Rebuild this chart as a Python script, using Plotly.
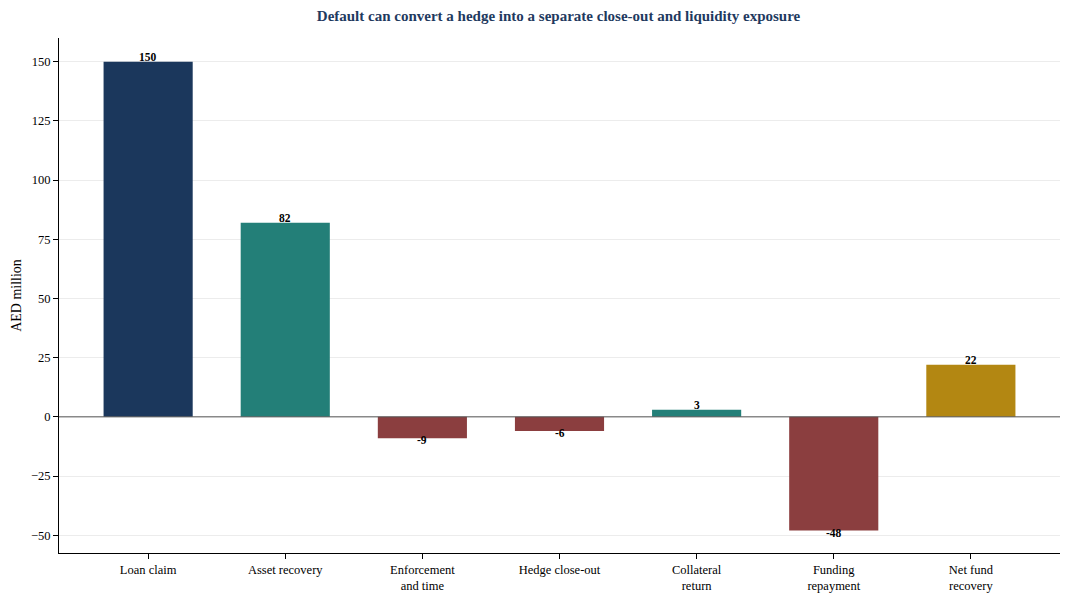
import plotly.graph_objects as go

categories = ["Loan claim", "Asset recovery", "Enforcement<br>and time", "Hedge close-out",
              "Collateral<br>return", "Funding<br>repayment", "Net fund<br>recovery"]
values = [150, 82, -9, -6, 3, -48, 22]
colors = ["#1b375c", "#237f78", "#8b3e3f", "#8b3e3f", "#237f78", "#8b3e3f", "#b38712"]

FONT = "Liberation Serif, Times New Roman, serif"

fig = go.Figure(go.Bar(
    x=categories, y=values,
    marker=dict(color=colors, line=dict(width=0)),
    width=0.65,
    hoverinfo="x+y",
))

for c, v in zip(categories, values):
    fig.add_annotation(
        x=c, y=v, text="<b>%d</b>" % v, showarrow=False,
        yanchor="bottom" if v >= 0 else "middle",
        yshift=-3 if v >= 0 else -2,
        font=dict(family=FONT, size=11.5, color="black"),
    )

fig.add_hline(y=0, line=dict(color="#555555", width=1))

fig.update_layout(
    width=1070, height=599,
    margin=dict(l=59, r=10, t=38, b=46, autoexpand=False),
    paper_bgcolor="white", plot_bgcolor="white",
    font=dict(family=FONT, size=12.5, color="black"),
    title=dict(text="<b>Default can convert a hedge into a separate close-out and liquidity exposure</b>",
               x=0.522, xanchor="center", y=0.973, yanchor="middle",
               font=dict(family=FONT, size=15, color="#1f3a5f")),
    showlegend=False,
    bargap=0.35,
)
fig.update_xaxes(
    range=[-0.65, 6.65], showline=True, linecolor="black", linewidth=1,
    ticks="outside", ticklen=5, tickcolor="black", showgrid=False,
    tickfont=dict(size=12.5), automargin=False,
)
fig.update_yaxes(
    range=[-57.5, 160], tickvals=[-50, -25, 0, 25, 50, 75, 100, 125, 150],
    showline=True, linecolor="black", linewidth=1,
    ticks="outside", ticklen=5, tickcolor="black",
    showgrid=True, gridcolor="rgba(200,200,200,0.35)", gridwidth=1,
    zeroline=False, layer="above traces",
    title=dict(text="AED million", font=dict(size=14), standoff=6),
    tickfont=dict(size=12.5), automargin=False,
)

# page body has a default 8px margin; drop it so the figure sits at the corner
fig.write_html("out.html", config={"displayModeBar": False},
               post_script="document.body.style.margin='0';document.body.style.overflow='hidden';")
